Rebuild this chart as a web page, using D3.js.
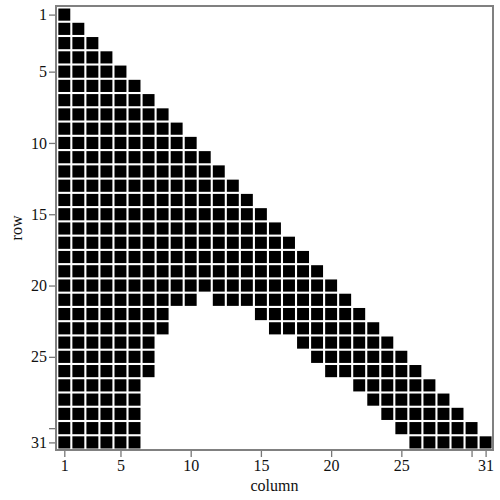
<!DOCTYPE html>
<html>
<head>
<meta charset="utf-8">
<script src="https://cdn.jsdelivr.net/npm/d3@7"></script>
<style>
  html, body { margin: 0; padding: 0; background: #fff; }
  svg { display: block; }
  .axis text { font-family: "Liberation Serif", "Times New Roman", serif; font-size: 16px; fill: #111; }
  .axis path { display: none; }
  .axis line { stroke: #777; stroke-width: 1.3px; }
</style>
</head>
<body>
<svg id="chart" width="500" height="500"></svg>
<script>
// Filled cell segments: [row, first column, last column]
const segments = [
  [1,1,1],[2,1,2],[3,1,3],[4,1,4],[5,1,5],[6,1,6],[7,1,7],[8,1,8],[9,1,9],[10,1,10],
  [11,1,11],[12,1,12],[13,1,13],[14,1,14],[15,1,15],[16,1,16],[17,1,17],[18,1,18],[19,1,19],[20,1,20],
  [21,1,10],[21,12,21],
  [22,1,8],[22,15,22],
  [23,1,8],[23,16,23],
  [24,1,7],[24,18,24],
  [25,1,7],[25,19,25],
  [26,1,7],[26,20,26],
  [27,1,6],[27,22,27],
  [28,1,6],[28,23,28],
  [29,1,6],[29,24,29],
  [30,1,6],[30,25,30],
  [31,1,6],[31,26,31]
];
const xTicks = [1, 5, 10, 15, 20, 25, 30, 31];
const xTickLabels = ["1", "5", "10", "15", "20", "25", "", "31"];
const yTicks = [1, 5, 10, 15, 20, 25, 30, 31];
const yTickLabels = ["1", "5", "10", "15", "20", "25", "", "31"];
const xTitle = "column";
const yTitle = "row";

// expand segments to cells
const cells = [];
segments.forEach(([r, c0, c1]) => {
  for (let c = c0; c <= c1; c++) cells.push({ row: r, col: c });
});

const frame = { left: 56, top: 6, right: 493, bottom: 450 };
const svg = d3.select("#chart");

const x = d3.scaleLinear().domain([1, 31]).range([64.3, 485.6]);
const y = d3.scaleLinear().domain([1, 31]).range([14.6, 442.4]);
const stepX = x(2) - x(1), stepY = y(2) - y(1);
const cw = stepX - 2.1, ch = stepY - 2.1;

svg.append("g").selectAll("rect").data(cells).join("rect")
  .attr("x", d => x(d.col) - cw / 2)
  .attr("y", d => y(d.row) - ch / 2)
  .attr("width", cw)
  .attr("height", ch)
  .attr("fill", "#000");

// frame
svg.append("rect")
  .attr("x", frame.left).attr("y", frame.top)
  .attr("width", frame.right - frame.left).attr("height", frame.bottom - frame.top)
  .attr("fill", "none").attr("stroke", "#808080").attr("stroke-width", 2);

const xAxis = d3.axisBottom(x).tickValues(xTicks)
  .tickFormat((d, i) => xTickLabels[i]).tickSize(6).tickPadding(3);
svg.append("g").attr("class", "axis")
  .attr("transform", `translate(0,${frame.bottom + 1})`).call(xAxis);

const yAxis = d3.axisLeft(y).tickValues(yTicks)
  .tickFormat((d, i) => yTickLabels[i]).tickSize(6).tickPadding(2);
svg.append("g").attr("class", "axis")
  .attr("transform", `translate(${frame.left - 1},0)`).call(yAxis);

svg.append("text")
  .attr("x", (frame.left + frame.right) / 2).attr("y", 491)
  .attr("text-anchor", "middle")
  .style("font-family", "'Liberation Serif', 'Times New Roman', serif")
  .style("font-size", "16px").attr("fill", "#111")
  .text(xTitle);

svg.append("text")
  .attr("transform", `translate(22,${(frame.top + frame.bottom) / 2}) rotate(-90)`)
  .attr("text-anchor", "middle")
  .style("font-family", "'Liberation Serif', 'Times New Roman', serif")
  .style("font-size", "16px").attr("fill", "#111")
  .text(yTitle);
</script>
</body>
</html>
